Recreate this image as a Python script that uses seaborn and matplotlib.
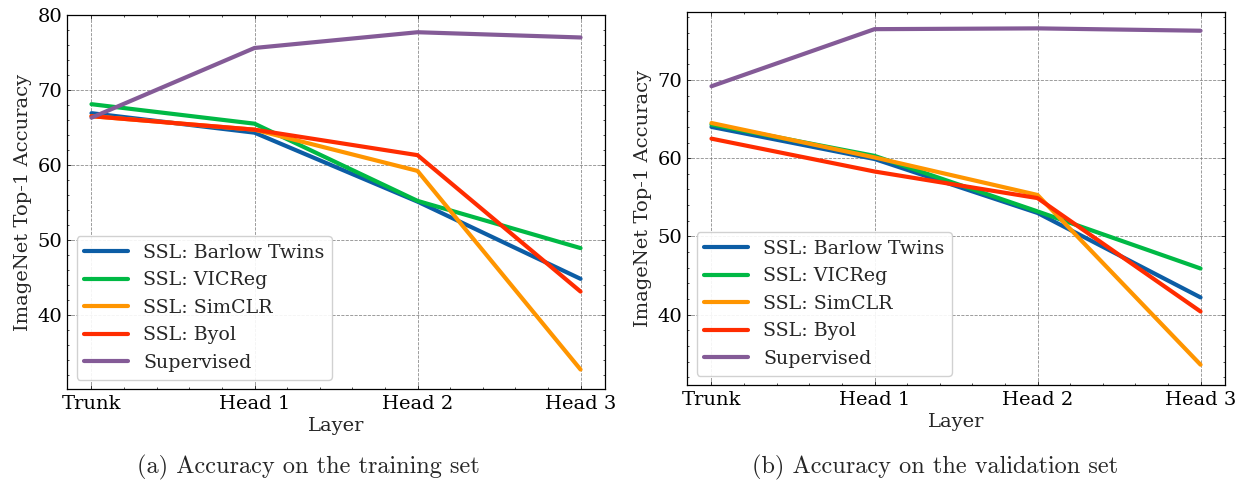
import numpy as np
import pandas as pd
import matplotlib
matplotlib.use("Agg")
import matplotlib.pyplot as plt
import seaborn as sns
from matplotlib.ticker import AutoMinorLocator


# -------------------------------------------------------
# Data
# -------------------------------------------------------

layers = ["Trunk", "Head 1", "Head 2", "Head 3"]

methods = ["SSL: Barlow Twins", "SSL: VICReg", "SSL: SimCLR", "SSL: Byol", "Supervised"]

train_barlow = [66.9, 64.3, 55.1, 44.8]
train_vicreg = [68.1, 65.5, 55.2, 48.9]
train_simclr = [66.5, 64.7, 59.2, 32.7]
train_byol = [66.5, 64.7, 61.3, 43.1]
train_supervised = [66.3, 75.6, 77.7, 77.0]

val_barlow = [64.0, 59.9, 53.0, 42.2]
val_vicreg = [64.3, 60.3, 53.2, 45.9]
val_simclr = [64.5, 60.1, 55.3, 33.6]
val_byol = [62.5, 58.3, 54.9, 40.4]
val_supervised = [69.2, 76.5, 76.6, 76.3]

colors = ["#0C5DA5", "#00B945", "#FF9500", "#FF2C00", "#845B97"]

captions = ["(a) Accuracy on the training set", "(b) Accuracy on the validation set"]


def to_long(series_list):
    rows = []
    for name, values in zip(methods, series_list):
        for i, v in enumerate(values):
            rows.append({"Layer": i, "Accuracy": v, "Method": name})
    return pd.DataFrame(rows)


train_df = to_long([train_barlow, train_vicreg, train_simclr, train_byol, train_supervised])
val_df = to_long([val_barlow, val_vicreg, val_simclr, val_byol, val_supervised])


# -------------------------------------------------------
# Style
# -------------------------------------------------------

sns.set_theme(style="ticks")
plt.rcParams["font.family"] = ["DejaVu Serif"]
plt.rcParams.update({
    "xtick.direction": "in",
    "ytick.direction": "in",
    "xtick.top": True,
    "ytick.right": True,
    "xtick.major.size": 3,
    "ytick.major.size": 3,
    "xtick.minor.size": 1.5,
    "ytick.minor.size": 1.5,
    "xtick.major.width": 0.5,
    "ytick.major.width": 0.5,
    "xtick.minor.width": 0.5,
    "ytick.minor.width": 0.5,
    "axes.linewidth": 0.9,
    "axes.edgecolor": "black",
    "xtick.color": "black",
    "ytick.color": "black",
    "font.size": 14,
    "xtick.labelsize": 14,
    "ytick.labelsize": 14,
    "axes.labelsize": 14,
    "legend.fontsize": 13.7,
})

fig = plt.figure(figsize=(12.39, 4.82), dpi=100)
ax1 = fig.add_axes([0.0541, 0.1929, 0.4342, 0.776])
ax2 = fig.add_axes([0.5545, 0.2012, 0.4342, 0.774])

panels = [
    (ax1, train_df, (30.1, 80.0), [40, 50, 60, 70, 80]),
    (ax2, val_df, (31.0, 78.7), [40, 50, 60, 70]),
]

for ax, df, ylim, yticks in panels:
    sns.lineplot(
        data=df, x="Layer", y="Accuracy", hue="Method",
        hue_order=methods, palette=colors, linewidth=3.0,
        sort=False, ax=ax
    )
    ax.set_xlim(-0.15, 3.15)
    ax.set_ylim(*ylim)
    ax.set_xticks(range(len(layers)))
    ax.set_xticklabels(layers)
    ax.set_yticks(yticks)
    ax.xaxis.set_minor_locator(AutoMinorLocator(5))
    ax.yaxis.set_minor_locator(AutoMinorLocator(5))
    ax.tick_params(which="both", top=True, right=True, direction="in")
    ax.tick_params(axis="x", pad=4)
    ax.grid(True, which="major", linestyle="--", color="gray", linewidth=0.6, alpha=0.9)
    ax.set_xlabel("Layer", labelpad=3)
    ax.set_ylabel("ImageNet Top-1 Accuracy", labelpad=4)
    ax.legend(
        loc="lower left", frameon=True, fancybox=True,
        handlelength=2.3, labelspacing=0.5, borderpad=0.4,
        edgecolor="#cccccc", framealpha=0.9
    )

fig.text(0.2485, 0.004, captions[0], ha="center", va="bottom",
         fontsize=17.5, family=["cmr10", "DejaVu Serif"])
fig.text(0.7545, 0.004, captions[1], ha="center", va="bottom",
         fontsize=17.5, family=["cmr10", "DejaVu Serif"])

fig.savefig("out.png", dpi=100)
plt.close(fig)
